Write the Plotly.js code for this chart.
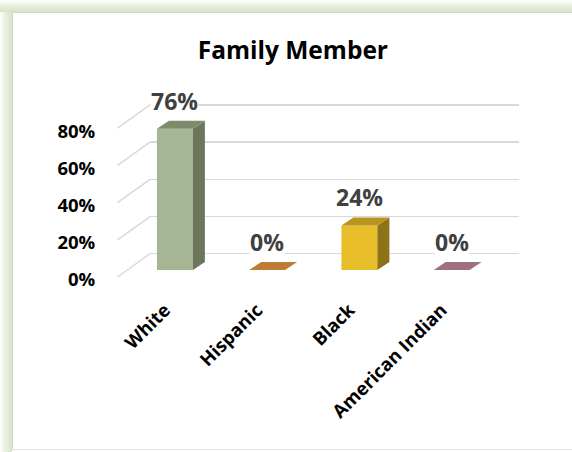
<!DOCTYPE html>
<html>
<head>
<meta charset="utf-8">
<script src="https://cdn.plot.ly/plotly-3.0.1.min.js"></script>
<style>
  html, body { margin: 0; padding: 0; background: #ffffff; }
  #wrap { position: relative; width: 572px; height: 452px; background: #ffffff; overflow: hidden; }
  #glowL { position: absolute; left: 0; top: 0; width: 12px; height: 452px;
           background: linear-gradient(to right, #ffffff 0%, #eaf1e1 40%, #d6e4c5 100%); }
  #glowT { position: absolute; left: 0; top: 0; width: 572px; height: 12px;
           background: linear-gradient(to bottom, #ffffff 0%, #eaf1e1 40%, #d6e4c5 100%); }
  #inner { position: absolute; left: 12px; top: 12px; right: -2px; bottom: 2px;
           border-left: 1px solid #cfdfbc; border-top: 1px solid #cfdfbc; border-bottom: 1px solid #e3e6df; background: #fff; }
  #chart { position: absolute; left: 0; top: 0; width: 572px; height: 452px; }
</style>
</head>
<body>
<div id="wrap">
  <div id="glowL"></div>
  <div id="glowT"></div>
  <div id="inner"></div>
  <div id="chart"></div>
</div>
<script>
// ---- data ----
var categories = ['White', 'Hispanic', 'Black', 'American Indian'];
var values = [76, 0, 24, 0];
var tickValues = [0, 20, 40, 60, 80];
var tickLabels = ['0%', '20%', '40%', '60%', '80%'];
var frontColors = ['#a6b593', '#c98a3e', '#e8bd2a', '#b58595'];
var topColors = ['#7e8b6a', '#bf7b33', '#b8951f', '#a0707f'];
var sideColors = ['#6b765a', '#8f5c25', '#8e7217', '#7a5561'];

// ---- 3D look parameters (in axis units) ----
var barW = 0.39;   // front face width (category units)
var dx = 0.13;     // depth offset to the right
var dy = 4.3;      // depth offset upward (percent units)

var xs = categories.map(function (c, i) { return i; });
var traces = [];

// front faces
traces.push({
  type: 'bar', x: xs, y: values, width: barW,
  marker: { color: frontColors, line: { width: 0 } },
  hoverinfo: 'skip', showlegend: false, xaxis: 'x', yaxis: 'y'
});

// side and top faces
values.forEach(function (v, i) {
  var x0 = i - barW / 2, x1 = i + barW / 2;
  if (v > 0) {
    traces.push({
      type: 'scatter', mode: 'lines', fill: 'toself',
      x: [x1, x1 + dx, x1 + dx, x1, x1],
      y: [0, dy, v + dy, v, 0],
      fillcolor: sideColors[i], line: { width: 0, color: sideColors[i] },
      hoverinfo: 'skip', showlegend: false, xaxis: 'x', yaxis: 'y'
    });
  }
  traces.push({
    type: 'scatter', mode: 'lines', fill: 'toself',
    x: [x0, x1, x1 + dx, x0 + dx, x0],
    y: [v, v, v + dy, v + dy, v],
    fillcolor: topColors[i], line: { width: 0, color: topColors[i] },
    hoverinfo: 'skip', showlegend: false, xaxis: 'x', yaxis: 'y'
  });
});

// invisible helper traces so overlay axes are drawn
traces.push({ type: 'scatter', mode: 'markers', x: [0], y: [0], marker: { opacity: 0 }, hoverinfo: 'skip', showlegend: false, xaxis: 'x', yaxis: 'y2' });
traces.push({ type: 'scatter', mode: 'markers', x: [0], y: [0], marker: { opacity: 0 }, hoverinfo: 'skip', showlegend: false, xaxis: 'x', yaxis: 'y3' });

// data labels
var annotations = values.map(function (v, i) {
  return {
    x: i, y: v, xref: 'x', yref: 'y', text: v + '%', showarrow: false,
    xanchor: 'center', yanchor: 'bottom', yshift: 11,
    bgcolor: '#ffffff', borderpad: 0,
    font: { family: 'Open Sans, sans-serif', size: 23, color: '#404040', weight: 'bold' }
  };
});

// diagonal "floor" tick lines on the left wall
var shapes = tickValues.map(function (t) {
  return {
    type: 'line', xref: 'paper', yref: 'y2',
    x0: -0.088, y0: t - 12.5, x1: 0, y1: t,
    line: { color: '#d9d9d9', width: 1.5 }
  };
});

var layout = {
  width: 572, height: 452,
  paper_bgcolor: 'rgba(0,0,0,0)', plot_bgcolor: 'rgba(0,0,0,0)',
  margin: { l: 150, r: 53, t: 90, b: 167 },
  title: {
    text: 'Family Member', x: 0.512, xanchor: 'center', y: 0.889, yanchor: 'middle',
    font: { family: 'Open Sans, sans-serif', size: 24.5, color: '#000000', weight: 'bold' }
  },
  showlegend: false,
  xaxis: {
    range: [-0.27, 3.73], tickmode: 'array', tickvals: xs, ticktext: categories,
    tickangle: -45, ticks: 'outside', ticklen: 6, tickcolor: 'rgba(0,0,0,0)',
    ticklabelshift: -10,
    showgrid: false, zeroline: false, showline: false, fixedrange: true,
    tickfont: { family: 'Open Sans, sans-serif', size: 18.5, color: '#000000', weight: 'bold' }
  },
  yaxis: {
    range: [-8.06, 96.8], showgrid: false, zeroline: false, showticklabels: false,
    showline: false, ticks: '', fixedrange: true
  },
  yaxis2: {
    overlaying: 'y', range: [-16.8, 88.0], tickmode: 'array', tickvals: tickValues,
    showgrid: true, gridcolor: '#d9d9d9', gridwidth: 1.5, zeroline: false,
    showticklabels: false, ticks: '', showline: false, fixedrange: true, layer: 'below traces'
  },
  yaxis3: {
    overlaying: 'y', range: [-2.7, 102.1], tickmode: 'array', tickvals: tickValues, ticktext: tickLabels,
    showgrid: false, zeroline: false, showline: false, ticks: 'outside', ticklen: 50,
    tickcolor: 'rgba(0,0,0,0)', fixedrange: true,
    tickfont: { family: 'Open Sans, sans-serif', size: 18.5, color: '#000000', weight: 'bold' }
  },
  annotations: annotations,
  shapes: shapes
};

Plotly.newPlot('chart', traces, layout, { staticPlot: true, displayModeBar: false });
</script>
</body>
</html>
